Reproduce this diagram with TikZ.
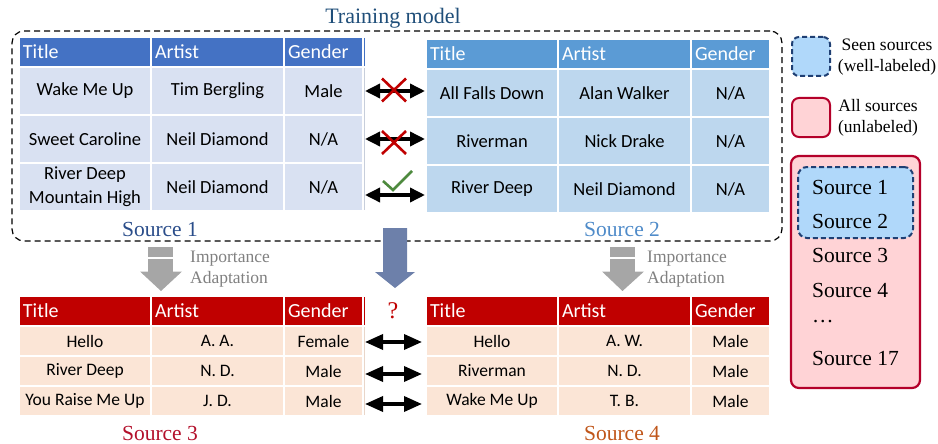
\documentclass[tikz,border=0pt]{standalone}
\usepackage{fontspec}
\setmainfont{Liberation Serif}
\newfontfamily\calfont{Carlito}
\usetikzlibrary{arrows.meta,calc}
\definecolor{hdrA}{HTML}{4472C4}
\definecolor{rowA}{HTML}{D9E1F2}
\definecolor{hdrB}{HTML}{5B9BD5}
\definecolor{rowB}{HTML}{BDD7EE}
\definecolor{hdrC}{HTML}{C00000}
\definecolor{rowC}{HTML}{FBE5D6}
\definecolor{navy}{HTML}{1F4E79}
\definecolor{srcone}{HTML}{2A4D8A}
\definecolor{srctwo}{HTML}{4F8BC9}
\definecolor{srcthree}{HTML}{B3102B}
\definecolor{srcfour}{HTML}{C0561A}
\definecolor{bigarrow}{HTML}{6D80AA}
\definecolor{grayarrow}{HTML}{A6A6A6}
\definecolor{graytext}{HTML}{808080}
\definecolor{xred}{HTML}{C00000}
\definecolor{chkgreen}{HTML}{4E8A3E}
\definecolor{legblue}{HTML}{B0D8FA}
\definecolor{legblueline}{HTML}{1F3F73}
\definecolor{legred}{HTML}{FFD3D6}
\definecolor{legredline}{HTML}{B4002A}
\newcommand{\hdrrow}[8]{%
  \node[#5, minimum height=#4, text width=124pt] (#1a) at (#2,#3) {#6};
  \node[#5, minimum height=#4, text width=125pt] (#1b) at ({#2+132},#3) {#7};
  \node[#5, minimum height=#4, text width=71pt] (#1c) at ({#2+265},#3) {#8};}
\newcommand{\bodyrow}[8]{%
  \node[#5, minimum height=#4, minimum width=130pt] (#1a) at (#2,#3) {#6};
  \node[#5, minimum height=#4, minimum width=131pt] (#1b) at ({#2+132},#3) {#7};
  \node[#5, minimum height=#4, minimum width=77pt] (#1c) at ({#2+265},#3) {#8};}
\begin{document}
\begin{tikzpicture}[x=1pt,y=-1pt,
  cellbase/.style={rectangle, inner xsep=3pt, inner ysep=0pt, anchor=north west, outer sep=0pt},
  hdrcell/.style={cellbase, align=left, text=white, font=\calfont\fontsize{20}{24}\selectfont},
  topcell/.style={cellbase, inner xsep=0pt, align=center, text=black, font=\calfont\fontsize{18.5}{24}\selectfont},
  botcell/.style={cellbase, inner xsep=0pt, align=center, text=black, font=\calfont\fontsize{17.5}{21}\selectfont},
  dblarrow/.style={{Triangle[length=15pt,width=14pt]}-{Triangle[length=15pt,width=14pt]}, line width=3.5pt, black},
  dblarrowb/.style={{Triangle[length=18pt,width=15pt]}-{Triangle[length=18pt,width=15pt]}, line width=3.5pt, black},
  xmark/.style={xred, line width=2.6pt},
  chkmark/.style={chkgreen, line width=2.6pt},
  srclabel/.style={font=\fontsize{21.5}{24}\selectfont, inner sep=0pt},
  imptext/.style={font=\fontsize{17.5}{21}\selectfont, text=graytext, align=left, anchor=west, inner sep=0pt},
  legtext/.style={font=\fontsize{17.5}{21}\selectfont, align=center, inner sep=0pt},
  listtext/.style={font=\fontsize{21.5}{24}\selectfont, anchor=west, inner sep=0pt},
  grayblk/.style={fill=grayarrow},
  tabedge/.style={line width=0.5pt}
]
\useasboundingbox (0,0) rectangle (938,444);

% training dashed box
\node[draw, dashed, dash pattern=on 6pt off 4pt, line width=1.2pt, rounded corners=12pt,
      minimum width=770pt, minimum height=210pt, inner sep=0pt] (train) at (397,136) {};
\node[font=\fontsize{22}{24}\selectfont, text=navy, inner sep=0pt] (traintitle) at (393,18) {Training model};

% table 1 (Source 1)
\hdrrow{t1h}{20}{38}{28}{hdrcell,fill=hdrA}{Title}{Artist}{Gender}
\bodyrow{t1ra}{20}{68}{46}{topcell,fill=rowA}{Wake Me Up}{Tim Bergling}{Male}
\bodyrow{t1rb}{20}{116}{46}{topcell,fill=rowA}{Sweet Caroline}{Neil Diamond}{N/A}
\bodyrow{t1rc}{20}{164}{46}{topcell,fill=rowA}{River Deep\\Mountain High}{Neil Diamond}{N/A}
\draw[tabedge, hdrA] ($(t1hc.north east)+(2,0)$) -- ($(t1hc.south east)+(2,0)$);
\draw[tabedge, rowA!80!gray] ($(t1rac.north east)+(2,0)$) -- ($(t1rcc.south east)+(2,0)$);

% table 2 (Source 2)
\hdrrow{t2h}{427}{40}{28}{hdrcell,fill=hdrB}{Title}{Artist}{Gender}
\bodyrow{t2ra}{427}{70}{46}{topcell,fill=rowB}{All Falls Down}{Alan Walker}{N/A}
\bodyrow{t2rb}{427}{118}{46}{topcell,fill=rowB}{Riverman}{Nick Drake}{N/A}
\bodyrow{t2rc}{427}{166}{46}{topcell,fill=rowB}{River Deep}{Neil Diamond}{N/A}

% table 3 (Source 3)
\hdrrow{t3h}{20}{297}{28}{hdrcell,fill=hdrC}{Title}{Artist}{Gender}
\bodyrow{t3ra}{20}{327}{28}{botcell,fill=rowC}{Hello}{A. A.}{Female}
\bodyrow{t3rb}{20}{357}{28}{botcell,fill=rowC}{River Deep}{N. D.}{Male}
\bodyrow{t3rc}{20}{387}{28}{botcell,fill=rowC}{You Raise Me Up}{J. D.}{Male}
\draw[tabedge, hdrC] ($(t3hc.north east)+(2,0)$) -- ($(t3hc.south east)+(2,0)$);
\draw[tabedge, rowC!85!gray] ($(t3rac.north east)+(2,0)$) -- ($(t3rcc.south east)+(2,0)$);

% table 4 (Source 4)
\hdrrow{t4h}{427}{297}{28}{hdrcell,fill=hdrC}{Title}{Artist}{Gender}
\bodyrow{t4ra}{427}{327}{28}{botcell,fill=rowC}{Hello}{A. W.}{Male}
\bodyrow{t4rb}{427}{357}{28}{botcell,fill=rowC}{Riverman}{N. D.}{Male}
\bodyrow{t4rc}{427}{387}{28}{botcell,fill=rowC}{Wake Me Up}{T. B.}{Male}

% top double arrows
\draw[dblarrow] ($(t1rac.east)+(3,0)$) -- ($(t2raa.west |- t1rac.east)+(-2,0)$);
\draw[dblarrow] ($(t1rbc.east)+(3,0)$) -- ($(t2rba.west |- t1rbc.east)+(-2,0)$);
\draw[dblarrow] ($(t1rcc.east)+(3,8)$) -- ($(t2rca.west |- t1rcc.east)+(-2,8)$);
% marks
\coordinate (xa) at (394,90);
\coordinate (xb) at (394,142.5);
\draw[xmark] ($(xa)+(-12,-11.5)$) -- ($(xa)+(12,11.5)$) ($(xa)+(-12,11.5)$) -- ($(xa)+(12,-11.5)$);
\draw[xmark] ($(xb)+(-12,-11.5)$) -- ($(xb)+(12,11.5)$) ($(xb)+(-12,11.5)$) -- ($(xb)+(12,-11.5)$);
\draw[chkmark] (383,181) -- (393,190) -- (412,171);

% bottom double arrows
\draw[dblarrowb] ($(t3rac.east)+(3,1)$) -- ($(t4raa.west |- t3rac.east)+(-5,1)$);
\draw[dblarrowb] ($(t3rbc.east)+(3,3)$) -- ($(t4rba.west |- t3rbc.east)+(-5,3)$);
\draw[dblarrowb] ($(t3rcc.east)+(3,3)$) -- ($(t4rca.west |- t3rcc.east)+(-5,3)$);
\node[font=\fontsize{24}{26}\selectfont, text=xred, inner sep=0pt] (qmark) at (393,311) {?};

% source labels
\node[srclabel, text=srcone] (s1) at (160,229) {Source 1};
\node[srclabel, text=srctwo] (s2) at (622,229) {Source 2};
\node[srclabel, text=srcthree] (s3) at (160,433) {Source 3};
\node[srclabel, text=srcfour] (s4) at (622,433) {Source 4};

% big arrow
\fill[bigarrow] (383,228) -- (407,228) -- (407,272) -- (415,272) -- (395,288) -- (375,272) -- (383,272) -- cycle;

% importance adaptation arrows
\fill[grayblk] (148,247) rectangle (173,257);
\fill[grayblk] (148,259) rectangle (173,272);
\fill[grayblk] (140,271.5) -- (182,271.5) -- (161,291) -- cycle;
\node[imptext] (impl) at (190,269) {Importance\\Adaptation};
\fill[grayblk] (610,247) rectangle (635,257);
\fill[grayblk] (610,259) rectangle (635,272);
\fill[grayblk] (602,271.5) -- (644,271.5) -- (622.5,291) -- cycle;
\node[imptext] (impr) at (647,269) {Importance\\Adaptation};

% legend
\node[draw=legblueline, fill=legblue, dashed, dash pattern=on 5pt off 3pt, line width=2pt, rounded corners=7pt,
      minimum width=38pt, minimum height=39pt, inner sep=0pt] (legseen) at (811,56.5) {};
\node[legtext] (legseentext) at (887,57) {Seen sources\\(well-labeled)};
\node[draw=legredline, fill=legred, line width=2pt, rounded corners=7pt,
      minimum width=38pt, minimum height=39pt, inner sep=0pt] (legall) at (811,117.5) {};
\node[legtext] (legalltext) at (878,118) {All sources\\(unlabeled)};

\node[draw=legredline, fill=legred, line width=2.2pt, rounded corners=8pt,
      minimum width=129pt, minimum height=232pt, inner sep=0pt] (biglist) at (855.5,272) {};
\node[draw=legblueline, fill=legblue, dashed, dash pattern=on 5pt off 3pt, line width=2pt, rounded corners=9pt,
      minimum width=115pt, minimum height=71pt, inner sep=0pt] (seenlist) at (855.5,202.5) {};
\node[listtext] (l1) at (812,187) {Source 1};
\node[listtext] (l2) at (812,221) {Source 2};
\node[listtext] (l3) at (812,255) {Source 3};
\node[listtext] (l4) at (812,290) {Source 4};
\node[listtext] (l5) at (812,322) {\dots};
\node[listtext] (l6) at (812,358) {Source 17};
\end{tikzpicture}
\end{document}
